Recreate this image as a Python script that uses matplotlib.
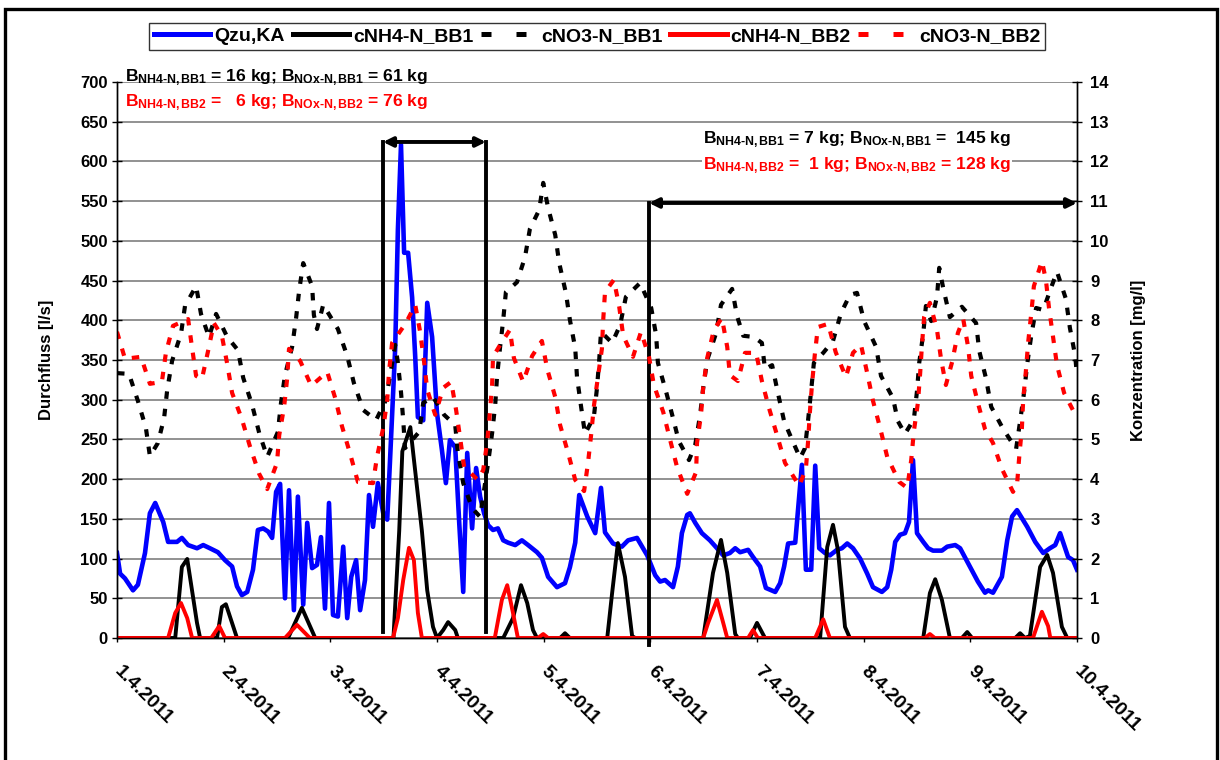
import matplotlib
matplotlib.use("Agg")
import matplotlib.pyplot as plt
from matplotlib.patches import Rectangle
from matplotlib.lines import Line2D
import numpy as np

plt.rcParams['font.family'] = ['Liberation Sans', 'DejaVu Sans']
plt.rcParams['font.weight'] = 'bold'
plt.rcParams['mathtext.fontset'] = 'custom'
plt.rcParams['mathtext.rm'] = 'Liberation Sans:bold'
plt.rcParams['mathtext.it'] = 'Liberation Sans:bold'
plt.rcParams['mathtext.bf'] = 'Liberation Sans:bold'
plt.rcParams['mathtext.sf'] = 'Liberation Sans:bold'

# ---------------- data (time in hours from 1.4.2011 00:00) ----------------
day_labels = ["1.4.2011", "2.4.2011", "3.4.2011", "4.4.2011", "5.4.2011",
              "6.4.2011", "7.4.2011", "8.4.2011", "9.4.2011", "10.4.2011"]

q_t = [0, 0.7, 1.8, 3.6, 4.7, 6.3, 7.4, 8.6, 10.4, 11.5, 13.5, 14.6, 16.0, 18.0, 19.4, 20.9,
       22.7, 24.3, 25.9, 27.0, 28.1, 29.3, 30.6, 31.7, 32.9, 34.0, 34.9, 35.8, 36.7, 37.8,
       38.7, 39.8, 40.7, 41.9, 42.8, 43.9, 45.0, 45.9, 46.8, 47.7, 48.6, 49.7, 50.9, 51.8,
       52.7, 53.8, 54.7, 55.8, 56.7, 57.6, 58.7, 59.9, 60.8, 61.4, 62.6, 63.2, 63.9, 64.6,
       65.5, 66.4, 67.1, 67.7, 68.9, 69.8, 70.9, 72.0, 73.1, 74.0, 74.9, 76.1, 77.0, 77.9,
       78.8, 79.9, 80.8, 81.7, 82.6, 83.5, 84.6, 85.7, 86.9, 88.0, 89.6, 91.1, 92.5, 94.5,
       95.6, 97.0, 99.0, 100.8, 101.9, 103.1, 104.0, 105.8, 107.6, 108.9, 109.8, 111.6,
       113.6, 115.0, 117.0, 119.3, 121.1, 122.2, 123.3, 125.1, 126.2, 127.1, 128.3, 128.9,
       130.1, 131.6, 133.4, 135.0, 136.4, 137.9, 139.1, 140.2, 142.0, 143.1, 144.7, 146.0,
       148.1, 149.2, 150.1, 151.0, 152.6, 154.1, 155.0, 156.2, 157.1, 158.0, 159.3, 160.4,
       162.0, 163.1, 164.3, 165.6, 167.2, 168.8, 170.1, 172.1, 173.3, 174.2, 175.1, 176.2,
       177.3, 178.2, 179.1, 180.0, 181.4, 182.5, 183.6, 185.6, 186.8, 188.6, 189.7, 191.9,
       193.7, 195.3, 196.0, 197.1, 199.1, 200.3, 201.4, 202.5, 204.8, 206.6, 208.4, 209.9,
       211.1, 212.2, 214.0, 215.1, 216.0]
q_val = [107, 81, 75, 60, 67, 107, 157, 170, 146, 121, 121, 126, 117, 113, 117, 113,
         108, 98, 90, 65, 54, 58, 86, 136, 138, 134, 126, 184, 194, 50,
         186, 35, 178, 42, 145, 88, 92, 127, 37, 170, 29, 27, 115, 25,
         77, 98, 35, 73, 180, 140, 195, 157, 149, 220, 366, 514, 621, 485,
         485, 429, 354, 278, 274, 422, 379, 283, 237, 195, 249, 240, 145, 58,
         233, 138, 214, 178, 157, 142, 136, 138, 123, 120, 117, 123, 117, 108,
         101, 77, 64, 69, 89, 120, 180, 153, 132, 189, 133, 119,
         115, 123, 126, 104, 79, 71, 73, 64, 90, 132, 155, 157,
         145, 132, 123, 113, 104, 107, 113, 108, 111, 102, 90, 63,
         58, 69, 90, 119, 120, 218, 86, 86, 217, 113, 107, 104,
         111, 113, 119, 113, 100, 81, 64, 58, 64, 86, 121, 130,
         132, 146, 224, 132, 121, 113, 110, 110, 115, 117, 113, 90,
         71, 57, 60, 57, 77, 123, 153, 161, 140, 121, 107, 113,
         117, 132, 102, 98, 86]

nh4_bb1_t = [0, 13.1, 14.6, 15.8, 18.0, 18.7, 22.5, 23.6, 24.5, 27.0, 38.5, 41.6, 44.6,
             62.2, 63.5, 64.2, 66.0, 66.7, 68.6, 69.8, 71.1, 72.0, 73.4, 74.5, 76.1, 76.7,
             86.9, 89.1, 90.9, 92.3, 93.6, 94.5, 99.7, 100.8, 101.9,
             110.3, 111.4, 112.7, 114.3, 115.9, 116.6, 131.9, 134.1, 135.9, 137.3, 139.1, 139.7,
             142.4, 144.0, 145.8, 158.2, 159.8, 161.1, 162.2, 163.8, 164.9,
             181.4, 182.9, 184.1, 185.6, 187.4, 190.1, 191.3, 192.4, 202.1, 203.2, 204.3,
             205.4, 207.7, 209.3, 210.6, 212.6, 213.8, 216.0]
nh4_bb1 = [0, 0, 1.79, 1.99, 0.38, 0, 0, 0.78, 0.85, 0, 0, 0.76, 0,
           0, 2.7, 4.7, 5.31, 4.6, 2.7, 1.2, 0.28, 0, 0.2, 0.40, 0.2, 0,
           0, 0.5, 1.33, 0.88, 0.2, 0, 0, 0.12, 0,
           0, 1.13, 2.39, 1.54, 0.05, 0, 0, 1.64, 2.47, 1.64, 0.1, 0,
           0, 0.38, 0, 0, 2.29, 2.85, 2.22, 0.28, 0,
           0, 1.13, 1.48, 0.96, 0, 0, 0.15, 0, 0, 0.12, 0,
           0.05, 1.79, 2.09, 1.64, 0.28, 0, 0]

nh4_bb2_t = [0, 11.5, 13.1, 14.4, 15.8, 16.9, 21.2, 23.0, 24.3, 37.8, 40.5, 43.4,
             62.1, 63.2, 64.4, 65.7, 66.8, 67.7, 68.6, 85.0, 86.6, 87.8, 89.1, 90.2,
             94.7, 95.9, 97.0, 131.9, 133.0, 135.0, 136.4, 137.3, 142.0, 143.1, 144.2,
             157.1, 158.9, 160.4, 181.8, 182.9, 184.0, 206.1, 208.1, 209.5, 210.0, 216.0]
nh4_bb2 = [0, 0, 0.63, 0.88, 0.5, 0, 0, 0.3, 0, 0, 0.33, 0,
           0, 0.5, 1.46, 2.27, 1.96, 0.63, 0, 0, 0.96, 1.33, 0.63, 0,
           0, 0.1, 0, 0, 0.38, 0.96, 0.38, 0, 0, 0.2, 0,
           0, 0.47, 0, 0, 0.1, 0, 0, 0.66, 0.3, 0, 0]

no3_bb1_t = [0, 2.7, 4.7, 6.5, 7.4, 9.2, 10.6, 11.3, 12.4, 14.4, 15.3, 17.8, 18.9, 20.7,
             22.3, 24.8, 27.2, 28.4, 30.4, 32.0, 33.8, 36.2, 36.9, 37.8, 39.4, 40.3, 41.0,
             41.9, 43.9, 44.3, 45.0, 46.4, 49.7, 51.8, 53.3, 55.4, 58.3, 60.5, 62.6, 63.2,
             63.9, 64.4, 64.8, 68.0, 68.9, 71.1, 73.6, 76.1, 76.7, 77.9, 79.9, 81.7, 83.5,
             84.4, 85.1, 85.5, 86.2, 86.9, 87.5, 90.0, 91.8, 92.9, 95.0, 95.9, 97.0, 98.6,
             99.5, 101.0, 101.9, 103.1, 103.5, 104.4, 105.3, 107.3, 108.0, 108.5, 108.9,
             111.4, 113.2, 114.5, 117.7, 120.2, 121.3, 121.7, 123.5, 125.1, 126.4, 128.7,
             130.1, 131.2, 131.9, 132.8, 134.8, 135.9, 138.4, 139.5, 140.9, 143.3, 145.1,
             145.8, 147.4, 148.7, 150.1, 151.9, 153.7, 154.8, 155.5, 156.2, 156.8, 158.9,
             161.1, 162.9, 164.9, 166.5, 168.1, 170.8, 171.9, 174.6, 175.7, 177.3, 179.3,
             180.0, 180.5, 181.4, 182.0, 183.2, 184.5, 185.0, 185.9, 187.4, 190.1, 193.3,
             194.0, 195.5, 196.7, 199.4, 202.3, 203.2, 204.1, 204.8, 205.7, 206.8, 208.4,
             210.4, 211.5, 213.5, 214.4, 215.6, 216.0]
no3_bb1 = [6.67, 6.65, 5.97, 5.29, 4.58, 4.91, 5.54, 6.25, 6.98, 7.66, 8.36, 8.86, 8.16, 7.58,
           8.16, 7.58, 7.25, 6.55, 5.87, 5.16, 4.56, 5.19, 5.92, 6.62, 7.33, 8.06, 8.76,
           9.44, 8.86, 8.13, 7.78, 8.39, 7.78, 7.10, 6.42, 5.74, 5.49, 5.99, 7.38, 6.93,
           6.19, 5.49, 4.78, 5.19, 5.92, 6.07, 5.62, 5.36, 4.66, 3.90, 3.27, 3.05, 4.41,
           5.16, 5.87, 6.57, 7.33, 8.01, 8.71, 8.96, 9.59, 10.3, 10.78, 11.46, 10.83, 10.15,
           9.44, 8.69, 8.01, 7.30, 6.57, 5.84, 5.14, 5.57, 6.30, 7.00, 7.71,
           7.43, 7.88, 8.59, 8.94, 8.31, 7.63, 6.93, 6.22, 5.54, 4.96, 4.48,
           4.86, 5.62, 6.30, 7.00, 7.68, 8.39, 8.79, 8.11, 7.61, 7.58, 7.43,
           6.77, 6.87, 6.17, 5.46, 4.99, 4.53, 4.78, 5.49, 6.25, 6.93, 7.18,
           7.48, 8.18, 8.64, 8.69, 7.98, 7.33, 6.60, 6.04, 5.46, 5.14, 5.51,
           6.22, 6.93, 7.66, 8.36, 7.98, 8.59, 9.32, 8.81, 8.08, 8.34, 7.93,
           7.23, 6.55, 5.82, 5.26, 4.76, 5.46, 6.19, 6.90, 7.61, 8.31, 8.26,
           8.89, 9.22, 8.54, 7.81, 7.10, 6.6]

no3_bb2_t = [0, 1.8, 5.4, 7.4, 10.1, 11.0, 12.6, 16.0, 16.9, 17.8, 19.1, 20.5, 21.8, 23.6,
             24.8, 25.9, 28.1, 29.9, 32.0, 33.8, 36.0, 36.5, 37.6, 38.3, 38.7, 41.2, 43.7,
             47.3, 49.1, 50.6, 52.4, 54.2, 57.6, 58.5, 59.9, 60.8, 61.2, 61.9, 65.0, 67.1,
             68.2, 69.1, 69.8, 71.6, 73.4, 75.2, 76.3, 77.2, 78.1, 81.2, 82.4, 83.3, 83.9,
             84.4, 84.6, 86.2, 88.4, 89.3, 91.4, 93.4, 95.6, 96.8, 98.6, 99.7, 101.5, 103.1,
             105.1, 106.0, 106.7, 107.3, 108.2, 109.1, 109.4, 109.8, 111.8, 113.0, 113.9,
             116.1, 117.9, 119.7, 120.8, 122.9, 124.4, 126.0, 128.3, 130.3, 130.5, 131.4,
             131.9, 132.8, 134.3, 136.1, 137.3, 137.9, 139.7, 141.3, 143.8, 145.1, 146.7,
             148.5, 150.3, 153.5, 155.0, 155.5, 155.9, 156.4, 157.0, 157.7, 160.0, 161.7,
             164.0, 165.6, 167.4, 168.8, 170.1, 171.7, 173.3, 176.0, 177.8, 178.7, 179.3,
             180.2, 180.7, 181.1, 181.6, 182.9, 184.5, 185.4, 186.5, 187.9, 189.2, 190.4,
             191.5, 192.2, 193.7, 195.3, 197.1, 199.1, 201.6, 202.5, 203.0, 203.6, 203.9,
             204.5, 205.0, 205.7, 206.3, 208.1, 209.0, 209.7, 210.6, 211.5, 213.1, 216.0]
no3_bb2 = [7.71, 7.03, 7.08, 6.40, 6.45, 7.18, 7.86, 8.03, 7.30, 6.60, 6.52, 7.23, 7.93, 7.61,
           6.90, 6.17, 5.51, 4.83, 4.13, 3.75, 4.41, 5.11, 5.82, 6.55, 7.28, 6.98, 6.35,
           6.70, 6.04, 5.34, 4.66, 3.93, 3.90, 4.56, 5.29, 5.99, 6.70, 7.43, 7.93, 8.39,
           7.71, 6.95, 6.25, 5.62, 6.30, 6.45, 5.74, 5.04, 4.31, 3.98, 4.23, 4.94, 5.67,
           6.37, 7.08, 7.38, 7.76, 7.05, 6.45, 7.10, 7.48, 6.77, 6.07, 5.36, 4.66, 3.98,
           3.70, 4.43, 5.14, 5.84, 6.57, 7.28, 8.01, 8.71, 9.02, 8.34, 7.61,
           7.08, 7.71, 7.08, 6.37, 5.69, 5.01, 4.31, 3.63, 4.18, 4.91, 5.62,
           6.32, 7.05, 7.76, 8.06, 7.33, 6.62, 6.47, 7.18, 7.18, 6.47, 5.79,
           5.11, 4.41, 3.83, 4.26, 4.96, 5.69, 6.42, 7.13, 7.83, 7.91, 7.20,
           6.57, 7.18, 7.38, 6.67, 5.97, 5.29, 4.56, 3.93, 3.78, 4.48, 5.21,
           5.92, 6.65, 7.35, 8.08, 8.44, 7.76, 7.03, 6.37, 6.95, 7.68, 8.03,
           7.33, 6.60, 5.92, 5.26, 4.91, 4.26, 3.68, 3.85, 4.56, 5.29, 6.02,
           6.72, 7.43, 8.16, 8.86, 9.49, 9.02, 8.31, 7.58, 6.87, 6.17, 5.54]

# balance periods (days) and texts
period1 = (2.494, 3.459)
period2 = (4.987, 9.0)
txt1_black = r"B$_{\mathrm{NH4\text{-}N,BB1}}$ = 16 kg; B$_{\mathrm{NOx\text{-}N,BB1}}$ = 61 kg"
txt1_red = r"B$_{\mathrm{NH4\text{-}N,BB2}}$ =   6 kg; B$_{\mathrm{NOx\text{-}N,BB2}}$ = 76 kg"
txt2_black = r"B$_{\mathrm{NH4\text{-}N,BB1}}$ = 7 kg; B$_{\mathrm{NOx\text{-}N,BB1}}$ =  145 kg"
txt2_red = r"B$_{\mathrm{NH4\text{-}N,BB2}}$ =  1 kg; B$_{\mathrm{NOx\text{-}N,BB2}}$ = 128 kg"

# ---------------- figure ----------------
W, H = 1220, 760
fig = plt.figure(figsize=(W / 100, H / 100), dpi=100)
ax = fig.add_axes([117 / W, 1 - 638 / H, (1077 - 117) / W, (638 - 82) / H])
ax2 = ax.twinx()
ax.set_zorder(1)
ax2.set_zorder(2)
ax2.patch.set_visible(False)

def days(t):
    return np.asarray(t) / 24.0

lw_q, lw_c, lw_d = 3.3, 2.8, 3.0
dash = (1.8, 2.4)
ln_q, = ax.plot(days(q_t), q_val, color='#0000FF', lw=lw_q, label='Qzu,KA')
ln_a, = ax2.plot(days(nh4_bb1_t), nh4_bb1, color='black', lw=lw_c, label='cNH4-N_BB1')
ln_b, = ax2.plot(days(no3_bb1_t), no3_bb1, color='black', lw=lw_d, dashes=dash,
                 dash_capstyle='butt', label='cNO3-N_BB1')
ln_c, = ax2.plot(days(nh4_bb2_t), nh4_bb2, color='#FF0000', lw=lw_c, label='cNH4-N_BB2')
ln_d, = ax2.plot(days(no3_bb2_t), no3_bb2, color='#FF0000', lw=lw_d, dashes=dash,
                 dash_capstyle='butt', label='cNO3-N_BB2')

ax.set_xlim(0, 9)
ax.set_ylim(0, 700)
ax2.set_ylim(0, 14)
ax.set_yticks(np.arange(0, 701, 50))
ax2.set_yticks(np.arange(0, 15, 1))
ax.set_xticks(np.arange(0, 10))
ax.set_xticklabels(day_labels, rotation=-45, ha='left', va='center', rotation_mode='anchor',
                   fontsize=14, fontweight='bold')
ax.yaxis.grid(True, color='#7f7f7f', lw=1.2)
ax.set_axisbelow(True)
for a in (ax, ax2):
    for s in a.spines.values():
        s.set_linewidth(1.0)
        s.set_color('black')
ax.spines['top'].set_visible(False)
ax2.spines['top'].set_visible(False)
ax.tick_params(axis='y', direction='inout', length=7, width=1, labelsize=12, pad=3)
ax2.tick_params(axis='y', direction='inout', length=7, width=1, labelsize=12, pad=6)
ax.tick_params(axis='x', direction='out', length=3, width=1, pad=19)
for lab in ax.get_yticklabels() + ax2.get_yticklabels():
    lab.set_fontweight('bold')
ax.set_ylabel('Durchfluss [l/s]', fontsize=12, fontweight='bold', labelpad=19)
ax2.set_ylabel('Konzentration [mg/l]', fontsize=12, fontweight='bold', labelpad=16)

# balance period brackets
arr_lw = 2.8
y1 = 624.5
ax.plot([period1[0], period1[0]], [7.5, y1], color='black', lw=arr_lw, zorder=5, clip_on=False)
ax.plot([period1[1], period1[1]], [7.5, y1], color='black', lw=arr_lw, zorder=5, clip_on=False)
ax.annotate('', xy=(period1[0], y1), xytext=(period1[1], y1),
            arrowprops=dict(arrowstyle='<|-|>', color='black', lw=arr_lw,
                            mutation_scale=14, shrinkA=0, shrinkB=0), zorder=6)
y2 = 547.7
ax.plot([period2[0], period2[0]], [-9, y2], color='black', lw=arr_lw, zorder=5, clip_on=False)
ax.annotate('', xy=(period2[0], y2), xytext=(period2[1], y2),
            arrowprops=dict(arrowstyle='<|-|>', color='black', lw=arr_lw,
                            mutation_scale=14, shrinkA=0, shrinkB=0), zorder=6,
            annotation_clip=False)

# balance texts
fs_t = 12.6
fig.text(125 / W, 1 - 81 / H, txt1_black, color='black', fontsize=fs_t, fontweight='bold', va='baseline')
fig.text(125 / W, 1 - 106 / H, txt1_red, color='#FF0000', fontsize=fs_t, fontweight='bold', va='baseline')
fig.text(703 / W, 1 - 143 / H, txt2_black, color='black', fontsize=fs_t, fontweight='bold', va='baseline',
         bbox=dict(facecolor='white', edgecolor='none', pad=1))
fig.text(703 / W, 1 - 169 / H, txt2_red, color='#FF0000', fontsize=fs_t, fontweight='bold', va='baseline',
         bbox=dict(facecolor='white', edgecolor='none', pad=1))

# legend (proxy handles so the dashed entries show two short dashes like the original)
leg_dash = (0, (2.0, 5.0, 2.0, 30))
h_q = Line2D([], [], color='#0000FF', lw=3.6)
h_a = Line2D([], [], color='black', lw=3.6)
h_b = Line2D([], [], color='black', lw=3.6, linestyle=leg_dash, dash_capstyle='butt')
h_c = Line2D([], [], color='#FF0000', lw=3.6)
h_d = Line2D([], [], color='#FF0000', lw=3.6, linestyle=leg_dash, dash_capstyle='butt')
leg = fig.legend(handles=[h_q, h_a, h_b, h_c, h_d],
                 labels=[ln_q.get_label(), ln_a.get_label(), ln_b.get_label(),
                         ln_c.get_label(), ln_d.get_label()],
                 loc='center', bbox_to_anchor=(597 / W, 1 - 36.5 / H), ncol=5, frameon=True,
                 fancybox=False, edgecolor='black', handlelength=2.9, handletextpad=0.2,
                 columnspacing=0.4, borderpad=0.25, prop={'weight': 'bold', 'size': 14})
leg.get_frame().set_linewidth(1.0)

# figure frame
fig.patches.append(Rectangle((5 / W, -0.05), (1217 - 5) / W, 1.05 - 9 / H, transform=fig.transFigure,
                             fill=False, edgecolor='black', lw=2.4))

fig.savefig('out.png', dpi=100)
